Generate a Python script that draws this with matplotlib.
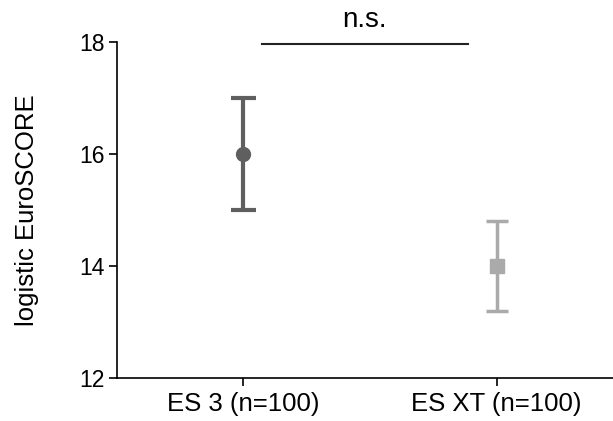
import numpy as np
import matplotlib.pyplot as plt

plt.rcParams['font.family'] = ['Liberation Sans', 'DejaVu Sans']

# data
groups = ['ES 3 (n=100)', 'ES XT (n=100)']
means = [16.0, 14.0]
lower = [15.0, 13.2]
upper = [17.0, 14.8]
colors = ['#5f5f5f', '#aaaaaa']
markers = ['o', 's']
y_ticks = [12, 14, 16, 18]

fig = plt.figure(figsize=(6.13, 4.21), dpi=100)
ax = fig.add_axes([0.1905, 0.102, 0.8095, 0.799])

x = np.arange(len(groups))
lw = [3.0, 2.5]
caps = [9, 8]
for i in range(len(groups)):
    err = [[means[i] - lower[i]], [upper[i] - means[i]]]
    ax.errorbar(x[i], means[i], yerr=err, fmt=markers[i], color=colors[i],
                ecolor=colors[i], elinewidth=lw[i], capsize=caps[i],
                capthick=lw[i], markersize=10 if i == 0 else 9.5)

ax.set_xlim(-0.50, 1.46)
ax.set_ylim(12, 18)
ax.set_yticks(y_ticks)
ax.set_xticks(x)
ax.set_xticklabels(groups)
ax.tick_params(length=6, width=1.2, colors='black')
ax.tick_params(axis='y', labelsize=16.5, pad=2.5)
ax.tick_params(axis='x', labelsize=18.5, pad=4)
for s in ['left', 'bottom']:
    ax.spines[s].set_linewidth(1.2)
ax.spines['top'].set_visible(False)
ax.spines['right'].set_visible(False)
ax.set_ylabel('logistic EuroSCORE', fontsize=18.5, labelpad=29)

# significance bar
ax.plot([0.075, 0.889], [17.95, 17.95], color='#222222', lw=1.5, clip_on=False)
ax.text(0.48, 18.15, 'n.s.', ha='center', va='bottom', fontsize=20)

fig.savefig('out.png', dpi=100)
